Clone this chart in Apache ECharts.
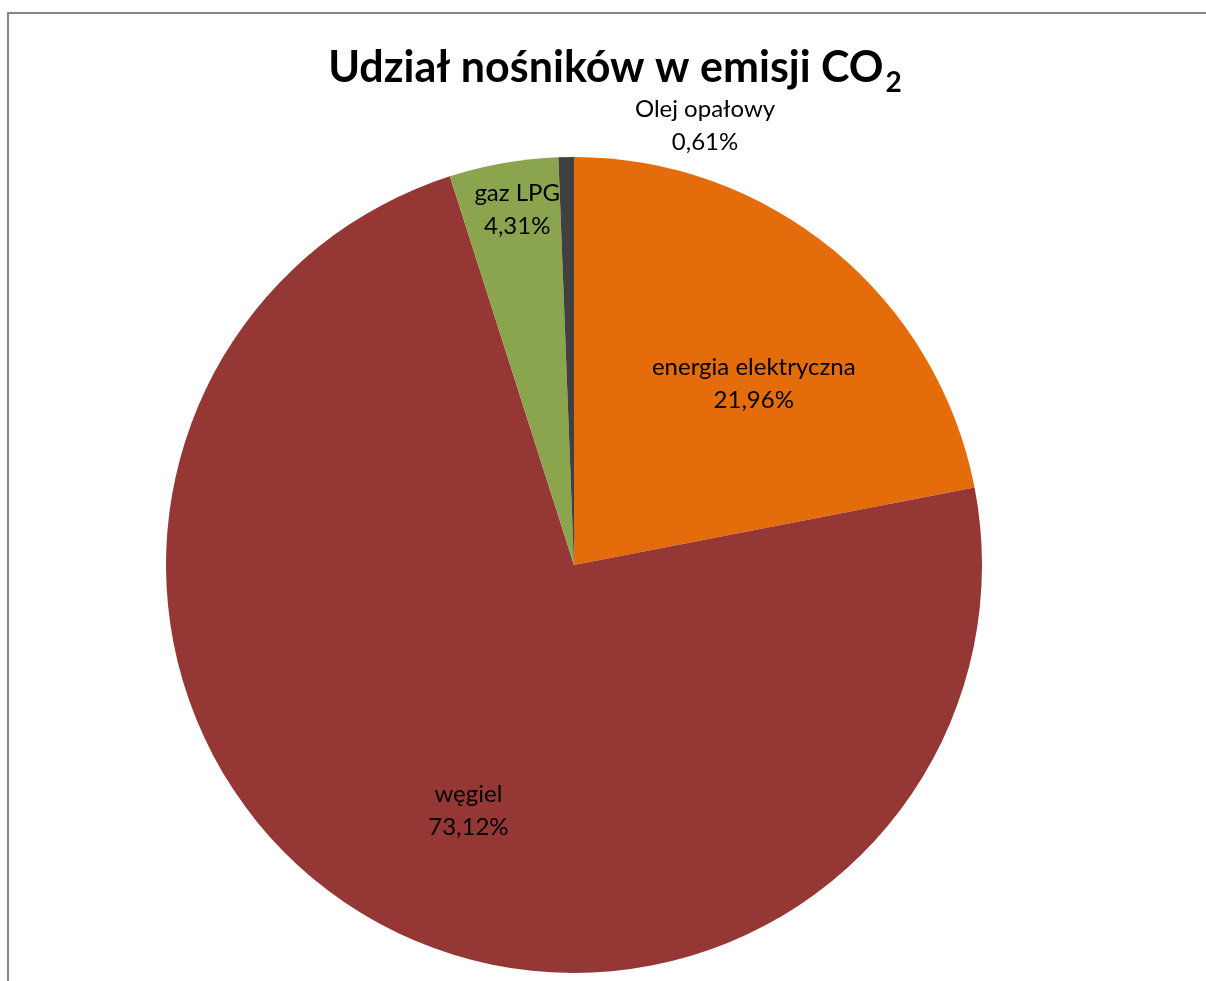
<!DOCTYPE html>
<html>
<head>
<meta charset="utf-8">
<script src="https://cdn.jsdelivr.net/npm/echarts@6/dist/echarts.min.js"></script>
<style>
html,body{margin:0;padding:0;background:#fff;}
#chart{width:1206px;height:981px;}
</style>
</head>
<body>
<div id="chart"></div>
<script>
const categories = ['energia elektryczna', 'węgiel', 'gaz LPG', 'Olej opałowy'];
const values = [21.96, 73.12, 4.31, 0.61];
const colors = ['#E46C0A', '#953735', '#8BA54F', '#404040'];
// label nudges relative to the default inside position
const labelOffsets = [[48, -22], [0, 68], [-21, -151], [135, -232]];

const chart = echarts.init(document.getElementById('chart'));
const fmt = v => v.toFixed(2).replace('.', ',') + '%';

chart.setOption({
  animation: false,
  backgroundColor: '#fff',
  title: {
    text: '{m|Udział nośników w emisji CO}{s|2}',
    left: 610, top: 34, textAlign: 'center',
    textStyle: {
      rich: {
        m: { fontFamily: 'Lato', fontWeight: 'bold', fontSize: 43, color: '#000' },
        s: { fontFamily: 'Lato', fontWeight: 'bold', fontSize: 28, color: '#000', padding: [30, 0, 0, 2] }
      }
    }
  },
  graphic: [{
    type: 'rect', silent: true, z: -1,
    shape: { x: 8, y: 13, width: 1400, height: 1200 },
    style: { fill: 'none', stroke: '#868686', lineWidth: 2 }
  }],
  series: [{
    type: 'pie',
    center: [574, 565],
    radius: 408,
    startAngle: 90,
    clockwise: true,
    avoidLabelOverlap: false,
    data: categories.map((c, i) => ({ name: c, value: values[i], itemStyle: { color: colors[i] } })),
    label: {
      position: 'inside',
      formatter: p => p.name + '\n' + fmt(p.value),
      fontFamily: 'Lato', fontSize: 24, color: '#000', lineHeight: 33, align: 'center'
    },
    labelLine: { show: false },
    labelLayout: p => ({ dx: labelOffsets[p.dataIndex][0], dy: labelOffsets[p.dataIndex][1] }),
    itemStyle: { borderWidth: 0 },
    emphasis: { disabled: true }
  }]
});
</script>
</body>
</html>
